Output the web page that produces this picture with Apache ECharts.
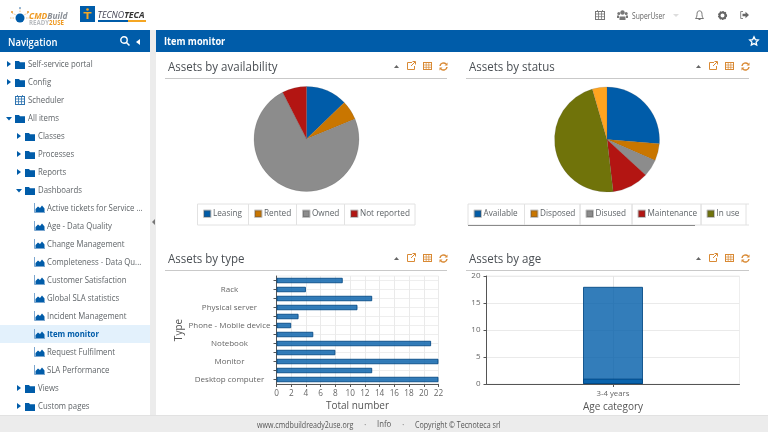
<!DOCTYPE html>
<html><head><meta charset="utf-8">
<script src="https://cdn.jsdelivr.net/npm/echarts@6/dist/echarts.min.js"></script>
<style>
html,body{margin:0;padding:0;width:768px;height:432px;overflow:hidden;background:#fff;font-family:"Open Sans",sans-serif;color:#555}
.a{position:absolute;white-space:nowrap}
.t{transform-origin:left center}
svg{position:absolute;overflow:visible}
#chart{position:absolute;left:0;top:0;width:768px;height:432px}
</style></head><body>
<div class="a" style="left:0;top:30px;width:150px;height:22px;background:#005ca9"></div>
<div class="a" style="left:156px;top:30px;width:612px;height:22px;background:#005ca9"></div>
<div class="a" style="left:150px;top:30px;width:6px;height:385px;background:#ececec"></div>
<div class="a" style="left:0;top:325px;width:150px;height:18px;background:#e3f1fc"></div>
<div class="a" style="left:0;top:415px;width:768px;height:17px;background:#ececec;border-top:1px solid #e2e2e2;box-sizing:border-box"></div>
<div id="chart"></div>
<div id="ui"></div>
<script>
const availabilityNames = ['Leasing', 'Rented', 'Owned', 'Not reported'];
const availabilityValues = [17, 8, 98, 10];
const statusNames = ['Available', 'Disposed', 'Disused', 'Maintenance', 'In use', 'Other'];
const statusValues = [35, 7, 7, 15, 63, 6];
const typeLabels = ['Desktop computer', ' ', 'Monitor', '  ', 'Notebook', '   ', 'Phone - Mobile device', '    ', 'Physical server', '     ', 'Rack', '      '];
const typeValues = [22, 13, 22, 8, 21, 5, 2, 3, 11, 13, 4, 9];
const ageLabels = ['3-4 years'];
const ageValuesA = [18];
const ageValuesB = [1];
const pieColors = ['#005ca9', '#c97600', '#8c8c8c', '#b31512', '#70730a', '#ffa41f'];
const navItems = [
  ['Self-service portal', 0, 'f', 'r'], ['Config', 0, 'f', 'r'], ['Scheduler', 0, 'c', ''], ['All items', 0, 'f', 'd'],
  ['Classes', 1, 'f', 'r'], ['Processes', 1, 'f', 'r'], ['Reports', 1, 'f', 'r'], ['Dashboards', 1, 'f', 'd'],
  ['Active tickets for Service ...', 2, 'g', ''], ['Age - Data Quality', 2, 'g', ''], ['Change Management', 2, 'g', ''],
  ['Completeness - Data Qu...', 2, 'g', ''], ['Customer Satisfaction', 2, 'g', ''], ['Global SLA statistics', 2, 'g', ''],
  ['Incident Management', 2, 'g', ''], ['Item monitor', 2, 'g', ''], ['Request Fulfilment', 2, 'g', ''], ['SLA Performance', 2, 'g', ''],
  ['Views', 1, 'f', 'r'], ['Custom pages', 1, 'f', 'r']
];
const panels = [
  ['Assets by availability', 168, 66, 165, 447, 78],
  ['Assets by status', 468.5, 66, 466, 749, 78],
  ['Assets by type', 168, 258, 165, 447, 269.5],
  ['Assets by age', 468.5, 258, 466, 749, 269.5]
];

const BLUE = '#005ca9', OR = '#d98a35';
let h = '';
const text = (s, x, y, st, sx) => `<div class="a t" style="left:${x}px;top:${y}px;transform:translateY(-50%) scaleX(${sx || 1});${st}">${s}</div>`;
const svg = (x, y, w, hh, body) => `<svg style="left:${x}px;top:${y}px" width="${w}" height="${hh}" viewBox="0 0 ${w} ${hh}">${body}</svg>`;
const folder = (x, y) => svg(x, y - 4.5, 10, 9, `<path d="M0 1h4l1 1.2h5V9H0z" fill="${BLUE}"/>`);
const cal = (x, y, c) => svg(x, y - 5, 10, 10, `<rect x=".5" y="1.5" width="9" height="8" fill="none" stroke="${c}"/><path d="M.5 4h9M3.5 1.5v8M6.5 1.5v8M.5 6.7h9M2.5 0v2M7.5 0v2" stroke="${c}" stroke-width=".8"/>`);
const graph = (x, y) => svg(x, y - 5, 11, 10, `<path d="M.5 0v9.5H11" stroke="#7ba6cf" fill="none"/><path d="M1.5 9V6l2.5-2.5L6 5l2-2.5 2.5 3V9z" fill="${BLUE}"/>`);
navItems.forEach((it, i) => {
  const y = 64 + i * 18, lv = it[1];
  const base = lv === 0 ? 15 : lv === 1 ? 25 : 34;
  if (it[3] === 'r') h += svg(base - 8, y - 3, 4, 6, `<path d="M0 0l4 3-4 3z" fill="${BLUE}"/>`);
  if (it[3] === 'd') h += svg(base - 9, y - 1.5, 6, 4, `<path d="M0 0h6l-3 3.5z" fill="${BLUE}"/>`);
  if (it[2] === 'f') h += folder(base, y);
  if (it[2] === 'c') h += cal(base, y, '#2f74b0');
  if (it[2] === 'g') h += graph(base, y);
  const tx = lv === 0 ? 28 : lv === 1 ? 37.5 : 47;
  const sel = it[0] === 'Item monitor';
  h += text(it[0], tx, y, `font-size:8.8px;color:${sel ? BLUE : '#5f6468'};${sel ? 'font-weight:700;' : ''}`, .885);
});
h += text('Navigation', 8, 41, 'font-size:11px;font-weight:600;color:#fff;', .86);
h += svg(120, 36, 10, 10, `<circle cx="4" cy="4" r="3.2" fill="none" stroke="#fff" stroke-width="1.4"/><path d="M6.5 6.5L9.5 9.5" stroke="#fff" stroke-width="1.5"/>`);
h += svg(136, 38.5, 4, 6, `<path d="M4 0L0 3l4 3z" fill="#fff"/>`);
h += svg(151.5, 219, 3, 6, `<path d="M3 0L0 3l3 3z" fill="#777"/>`);
h += text('Item monitor', 164, 41, 'font-size:10.5px;font-weight:700;color:#fff;', .875);
h += svg(749, 36, 10, 10, `<path d="M5 .8l1.3 2.8 3 .4-2.2 2.1.6 3L5 7.600 2.300 9.100l.6-3L.7 4l3-.4z" fill="none" stroke="#fff" stroke-width="1.3"/>`);
// header logos
h += svg(9, 6, 22, 20, `<circle cx="11" cy="12" r="4.5" fill="${BLUE}"/><path d="M3 7l4 2M19 7l-4 2M11 2v5M1 12h4M21 12h-4" stroke="#e0b070" stroke-width=".8" stroke-dasharray="1.5 1"/><circle cx="3" cy="6" r="1" fill="#e99a2e"/><circle cx="19" cy="6" r="1" fill="#e99a2e"/><circle cx="11" cy="2" r="1" fill="#7ba6cf"/>`);
h += text('CMD<span style="color:#8a8f96">Build</span>', 29, 14.5, 'font-size:9.5px;font-weight:700;font-style:italic;color:#ef9a22;', .885);
h += text('READY<span style="color:#ef9a22">2USE</span>', 29, 21.5, 'font-size:6.8px;font-weight:700;color:#b9bcc0;', .9);
h += `<div class="a" style="left:80px;top:6px;width:15px;height:16px;background:${BLUE}"></div>`;
h += svg(83, 8, 9, 12, `<circle cx="4.5" cy="1.5" r="1.3" fill="#f5a623"/><path d="M.5 4h8v1.6H5.5V11h-2V5.6H.5z" fill="#f5a623"/>`);
h += text('TECNO<b style="color:#333">TECA</b>', 97.5, 15, 'font-size:8.8px;font-style:italic;color:#445;');
h += `<div class="a" style="left:97.5px;top:20px;width:30px;height:1.5px;background:${BLUE}"></div><div class="a" style="left:127.5px;top:20px;width:18px;height:1.5px;background:#f5a623"></div>`;
// header right
h += cal(595, 15, '#777');
h += svg(617, 9.5, 11, 11, `<circle cx="5.5" cy="2.5" r="2.2" fill="#777"/><circle cx="1.8" cy="3.5" r="1.5" fill="#777"/><circle cx="9.2" cy="3.5" r="1.5" fill="#777"/><path d="M2.5 10V6.5h6V10zM0 8V5.5h2V8zM9 8V5.5h2V8z" fill="#777"/>`);
h += text('SuperUser', 632, 15, 'font-size:8.5px;color:#666;', .79);
h += svg(673, 14, 6, 3, `<path d="M0 0h6L3 3z" fill="#ddd"/>`);
h += svg(695, 9.5, 9, 11, `<path d="M4.5 .8C2.5.8 2 2.5 2 4.5 2 7 1 8 .5 8.5h8C8 8 7 7 7 4.500 7 2.500 6.500.8 4.500.8zM3.500 9.500h2" fill="none" stroke="#777"/>`);
h += svg(718, 10.5, 9, 9, `<circle cx="4.5" cy="4.5" r="3" fill="none" stroke="#666" stroke-width="2"/><circle cx="4.5" cy="4.5" r="4" fill="none" stroke="#666" stroke-width="1.2" stroke-dasharray="1.4 1.2"/>`);
h += svg(740, 11, 9, 8, `<path d="M3 .5H.7v7H3" fill="none" stroke="#888"/><path d="M2.5 2.8h3V.8L9 4 5.5 7.2V5.2h-3z" fill="#666"/>`);
// footer
h += text('www.cmdbuildready2use.org', 257, 424, 'font-size:8.4px;color:#555;', .845);
h += text('·', 364, 424, 'font-size:9px;color:#777;');
h += text('Info', 377, 424, 'font-size:8.8px;color:#555;', .88);
h += text('·', 402, 424, 'font-size:9px;color:#777;');
h += text('Copyright © Tecnoteca srl', 415, 424, 'font-size:8.4px;color:#555;', .85);
// panels
panels.forEach(p => {
  const [name, tx, ty, x0, x1, ly] = p;
  h += text(name, tx, ty, 'font-size:12.8px;color:#4a4f54;', .9);
  h += `<div class="a" style="left:${x0}px;top:${ly}px;width:${x1 - x0}px;height:1px;background:#c9c9c9"></div>`;
  const o = x1 - 447;
  h += svg(393.5 + o, ty - 1, 5, 3, `<path d="M0 3h5L2.5 0z" fill="#666"/>`);
  h += svg(407 + o, ty - 5, 9, 9, `<path d="M5 1.5H.5v7h7V5" fill="none" stroke="${OR}"/><path d="M4 5L8 1M5.5.5h3v3" fill="none" stroke="${OR}"/>`);
  h += svg(423 + o, ty - 4.5, 9, 8, `<rect x=".5" y=".5" width="8" height="7" fill="none" stroke="${OR}"/><path d="M.5 3h8M.5 5.3h8M3.2.5v7M5.8.5v7" stroke="${OR}" stroke-width=".7"/>`);
  h += svg(438.5 + o, ty - 4.5, 9, 9, `<path d="M1 4a3.5 3.5 0 0 1 6-2M8 5a3.5 3.5 0 0 1-6 2" fill="none" stroke="${OR}" stroke-width="1.5"/><path d="M8.5 .5v3h-3zM.5 8.5v-3h3z" fill="${OR}"/>`);
});
h += `<div class="a" style="left:468px;top:224.5px;width:227px;height:1.5px;background:#8a8a8a"></div>`;
document.getElementById('ui').innerHTML = h;

const legendCellsA = [197.5, 248.5, 296.5, 344.5, 415];
const legendCellsB = [468, 524.5, 580, 632, 701, 746];
const legends = [], rects = [];
const addLegend = (names, edges) => names.forEach((n, i) => {
  if (i + 1 >= edges.length) return;
  legends.push({data: [n], left: edges[i] + 5.5, top: 209.5, itemWidth: 6.5, itemHeight: 6.5, itemGap: 0, padding: 0, icon: 'rect',
    textStyle: {fontSize: 8.2, color: '#5f6468', fontFamily: 'Open Sans', padding: [0, 0, 0, -2.5]}, selectedMode: false});
  rects.push({type: 'rect', z: -1, shape: {x: edges[i], y: 204, width: edges[i + 1] - edges[i], height: 21}, style: {fill: 'none', stroke: '#e2e2e2', lineWidth: 1}});
});
addLegend(availabilityNames, legendCellsA);
addLegend(statusNames, legendCellsB);
rects.push({type: 'line', shape: {x1: 746, y1: 204, x2: 749, y2: 204}, style: {stroke: '#e2e2e2'}});
rects.push({type: 'line', shape: {x1: 746, y1: 225, x2: 749, y2: 225}, style: {stroke: '#e2e2e2'}});

const pieSeries = (names, vals, c, r) => ({
  type: 'pie', center: c, radius: r, startAngle: 90, clockwise: true, silent: true,
  label: {show: false}, labelLine: {show: false},
  itemStyle: {borderColor: 'rgba(80,80,80,.35)', borderWidth: .5},
  data: names.map((n, i) => ({name: n, value: vals[i], itemStyle: {color: pieColors[i]}}))
});
const barStyle = {color: 'rgba(0,92,169,.8)', borderColor: 'rgba(0,70,130,.85)', borderWidth: 1};
const fontF = 'Open Sans';
const axisC = '#555', lab = '#666';

const chart = echarts.init(document.getElementById('chart'), null, {renderer: 'canvas'});
chart.setOption({
  animation: false,
  color: pieColors,
  legend: legends,
  graphic: rects,
  grid: [
    {left: 276.5, top: 276, width: 162, height: 108, show: true, borderColor: '#eee', borderWidth: 1},
    {left: 486.5, top: 276, width: 253, height: 108, show: true, borderColor: '#eee', borderWidth: 1}
  ],
  xAxis: [
    {gridIndex: 0, type: 'value', min: 0, max: 22, interval: 2, name: 'Total number', nameLocation: 'middle', nameGap: 17,
      nameTextStyle: {fontSize: 10, color: '#555', fontFamily: fontF},
      axisLine: {show: true, lineStyle: {color: axisC}}, axisTick: {show: true, length: 3, lineStyle: {color: axisC}},
      axisLabel: {fontSize: 8.2, color: lab, margin: 6, fontFamily: fontF, hideOverlap: false}, splitLine: {show: true, lineStyle: {color: '#eaeaea'}}},
    {gridIndex: 1, type: 'category', data: ageLabels, boundaryGap: true, name: 'Age category', nameLocation: 'middle', nameGap: 18,
      nameTextStyle: {fontSize: 10, color: '#555', fontFamily: fontF},
      axisLine: {show: true, lineStyle: {color: axisC}}, axisTick: {show: true, alignWithLabel: true, length: 3, lineStyle: {color: axisC}},
      axisLabel: {fontSize: 7.8, color: lab, margin: 6, fontFamily: fontF}, splitLine: {show: true, alignWithLabel: true, lineStyle: {color: '#e4e4e4'}}}
  ],
  yAxis: [
    {gridIndex: 0, type: 'category', data: typeLabels, name: 'Type', nameLocation: 'middle', nameGap: 87, nameRotate: 90,
      nameTextStyle: {fontSize: 10, color: '#555', fontFamily: fontF},
      axisLine: {show: true, lineStyle: {color: axisC}}, axisTick: {show: true, alignWithLabel: true, length: 3, lineStyle: {color: axisC}},
      axisLabel: {fontSize: 8, color: lab, interval: 0, align: 'center', margin: 47, fontFamily: fontF}, splitLine: {show: true, alignWithLabel: true, lineStyle: {color: '#eee'}}},
    {gridIndex: 1, type: 'value', min: 0, max: 20, interval: 5,
      axisLine: {show: true, lineStyle: {color: axisC}}, axisTick: {show: true, length: 3, lineStyle: {color: axisC}},
      axisLabel: {fontSize: 8, color: lab, margin: 6, fontFamily: fontF}, splitLine: {show: true, lineStyle: {color: '#eaeaea'}}}
  ],
  series: [
    pieSeries(availabilityNames, availabilityValues, [306.5, 139], 52.5),
    pieSeries(statusNames, statusValues, [607, 139.5], 52.5),
    {type: 'bar', xAxisIndex: 0, yAxisIndex: 0, data: typeValues, barWidth: 5.5, itemStyle: barStyle, silent: true, z: 3},
    {type: 'bar', xAxisIndex: 1, yAxisIndex: 1, data: ageValuesA, barWidth: 60, barGap: '-100%', itemStyle: barStyle, silent: true, z: 3},
    {type: 'bar', xAxisIndex: 1, yAxisIndex: 1, data: ageValuesB, barWidth: 60, barGap: '-100%', itemStyle: barStyle, silent: true, z: 3}
  ]
});
</script>
</body></html>
